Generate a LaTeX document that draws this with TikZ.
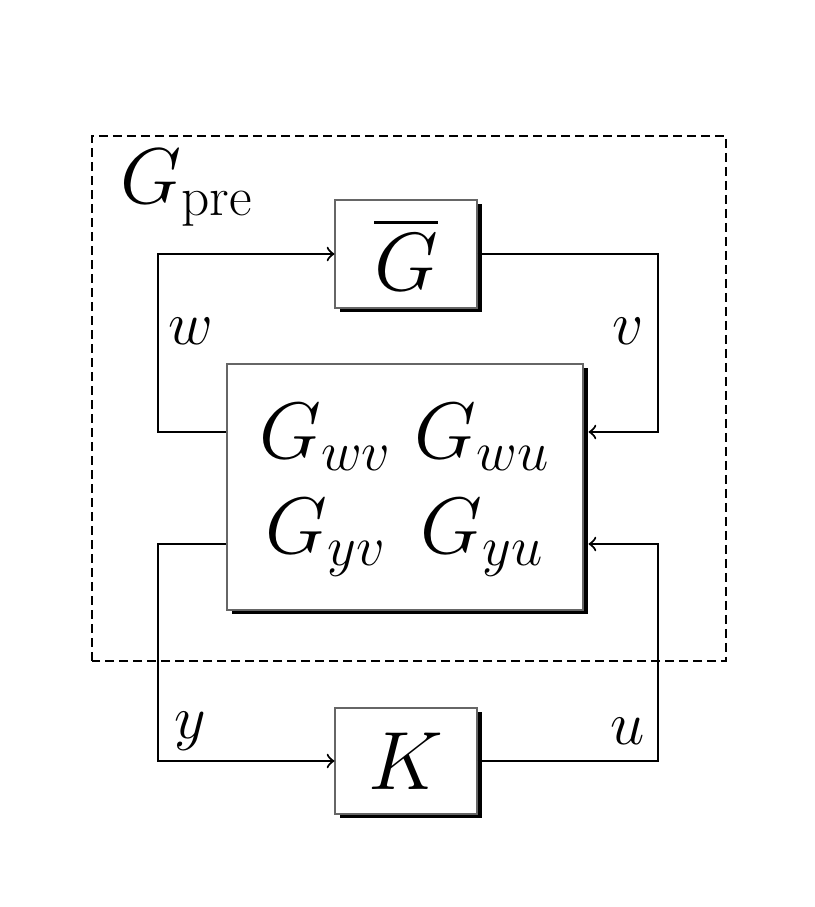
\RequirePackage{fix-cm}
\documentclass[tikz,border=0pt]{standalone}
\usepackage{amsmath}
\usetikzlibrary{shadows}
\tikzset{
  block/.style={draw=black!60, line width=0.3pt, fill=white, font=\fontsize{23.5}{28}\selectfont,
    drop shadow={shadow xshift=0.45mm, shadow yshift=-0.45mm, fill=black, opacity=1}},
  sig/.style={line width=0.6pt},
  lbl/.style={font=\fontsize{17.5}{21}\selectfont}
}

\begin{document}
\begin{tikzpicture}[x=1mm, y=1mm, >=to]
    \useasboundingbox (0,0) rectangle (81.4,90.7);
    % outer frame of the prefilter
    \draw[line width=0.5pt, dash pattern=on 0.9mm off 0.5mm] (9.2,24.6) rectangle (72.6,77.1);
    \node[anchor=base west, font=\fontsize{22.5}{27}\selectfont] (gpre) at (10.8,70.3) {$G_{\text{pre}}$};
    % blocks
    \node[block, minimum width=14.2mm, minimum height=10.8mm] (gbar) at (40.6,65.3) {$\overline{G}$};
    \node[block, minimum width=35.6mm, minimum height=24.6mm, font=\fontsize{22.8}{27}\selectfont] (plant) at (40.5,42.0)
        {\setlength{\arraycolsep}{3.2pt}%
         $\begin{array}{cc} G_{wv} & G_{wu}\\ G_{yv} & G_{yu}\end{array}$};
    \node[block, minimum width=14.2mm, minimum height=10.6mm] (k) at (40.6,14.6) {$K$};
    % corners of the loops
    \coordinate (wturn) at (15.8,65.3);
    \coordinate (vturn) at (65.8,65.3);
    \coordinate (yturn) at (15.8,14.6);
    \coordinate (uturn) at (65.8,14.6);
    % signals
    \draw[sig, ->] ([yshift=5.5mm]plant.west) -| (wturn) -- (gbar.west);
    \draw[sig, ->] (gbar.east) -- (vturn) |- ([xshift=0.5mm, yshift=5.5mm]plant.east);
    \draw[sig, ->] ([yshift=-5.7mm]plant.west) -| (yturn) -- (k.west);
    \draw[sig, ->] (k.east) -- (uturn) |- ([xshift=0.5mm, yshift=-5.7mm]plant.east);
    % signal names
    \node[lbl] (wlbl) at (19.1,57.6) {$w$};
    \node[lbl] (vlbl) at (62.8,57.6) {$v$};
    \node[lbl] (ylbl) at (19.0,17.6) {$y$};
    \node[lbl] (ulbl) at (62.8,17.6) {$u$};
\end{tikzpicture}
\end{document}
